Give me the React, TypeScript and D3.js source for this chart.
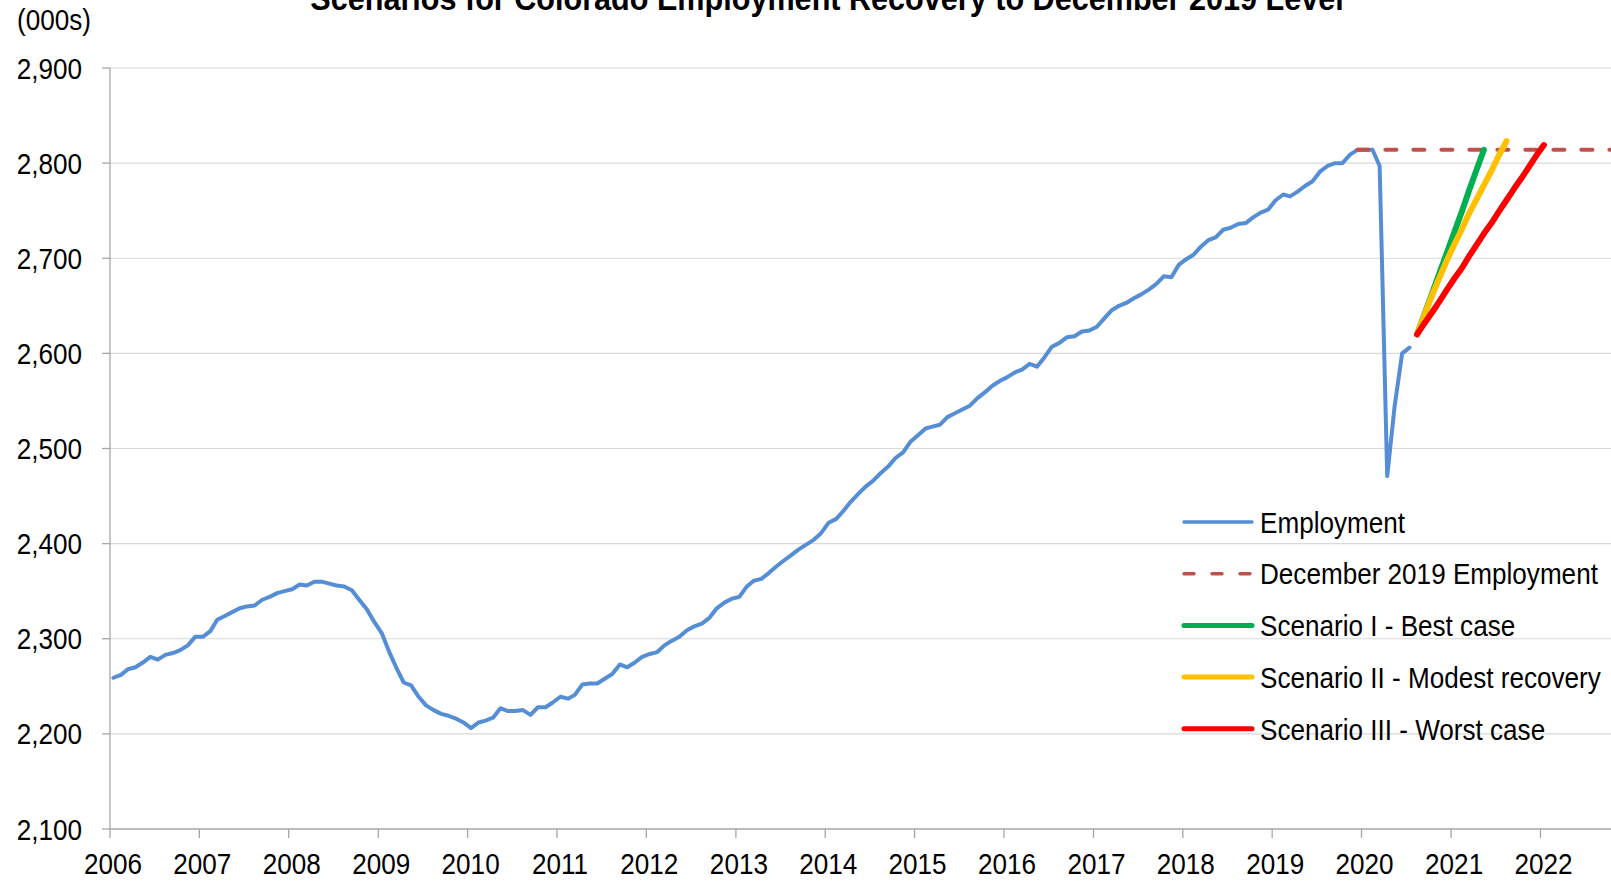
import React from 'react';
import * as d3 from 'd3';

// chart values
const yTicks = [2100, 2200, 2300, 2400, 2500, 2600, 2700, 2800, 2900];
const xYears = d3.range(2006, 2023);

// Colorado employment (000s), monthly from Jan 2006 to Jul 2020
const employment = [
  2259, 2262, 2268, 2270, 2275, 2281, 2278, 2283, 2285, 2288, 2293, 2302,
  2302, 2308, 2320, 2324, 2328, 2332, 2334, 2335, 2341, 2344, 2348, 2350,
  2352, 2357, 2356, 2360, 2360, 2358, 2356, 2355, 2351, 2341, 2331, 2318,
  2306, 2286, 2270, 2254, 2251, 2239, 2230, 2225, 2221, 2219, 2216, 2212,
  2206, 2212, 2214, 2217, 2227, 2224, 2224, 2225, 2220, 2228, 2228, 2233,
  2239, 2237, 2241, 2252, 2253, 2253, 2258, 2263, 2273, 2270, 2275, 2281,
  2284, 2286, 2293, 2298, 2302, 2309, 2313, 2316, 2322, 2332, 2338, 2342,
  2344, 2355, 2361, 2363, 2369, 2376, 2382, 2388, 2394, 2399, 2404, 2411,
  2422, 2426, 2434, 2444, 2452, 2460, 2466, 2474, 2481, 2490, 2496, 2507,
  2514, 2521, 2523, 2525, 2533, 2537, 2541, 2545, 2553, 2559, 2566, 2571,
  2575, 2580, 2583, 2589, 2586, 2596, 2607, 2611, 2617, 2618, 2623, 2624,
  2628, 2637, 2645, 2650, 2653, 2658, 2662, 2667, 2673, 2681, 2680, 2693,
  2699, 2704, 2712, 2719, 2722, 2730, 2732, 2736, 2737, 2743, 2748, 2751,
  2761, 2767, 2765, 2770, 2776, 2781, 2791, 2797, 2800, 2800, 2809, 2814,
  2814, 2814, 2797, 2471, 2544, 2600, 2606,
];

// December 2019 level, drawn from Dec 2019 onward
const dec2019Level = [2814, 2814];
const dec2019Months = ['2019-12', '2022-12'];

// scenarios, monthly from Aug 2020
const bestCase = [2620, 2642, 2663, 2685, 2706, 2728, 2750, 2771, 2793, 2814];
const modestCase = [2620, 2641, 2661, 2680, 2698, 2715, 2731, 2747, 2762, 2777, 2792, 2808, 2823];
const worstCase = [2620, 2632, 2643, 2655, 2667, 2679, 2690, 2702, 2714, 2726, 2737, 2749, 2761, 2773, 2784, 2796, 2808, 2819];

const legendLabels = [
  'Employment',
  'December 2019 Employment',
  'Scenario I - Best case',
  'Scenario II - Modest recovery',
  'Scenario III - Worst case',
];

const W = 1611;
const H = 881;
const FONT = '"Liberation Sans", Arial, sans-serif';

type Pt = { date: Date; value: number };

const monthly = (vals: number[], y0: number, m0: number): Pt[] =>
  vals.map((v, i) => ({ date: new Date(y0, m0 + i, 15), value: v }));

const fromKeys = (keys: string[], vals: number[]): Pt[] =>
  keys.map((k, i) => {
    const [y, m] = k.split('-').map(Number);
    return { date: new Date(y, m - 1, 15), value: vals[i] };
  });

// narrow Arial-like text
function T({ x, y, anchor = 'start', size = 29, weight = 'normal', children }: any) {
  return (
    <text
      transform={`translate(${x},${y}) scale(0.9,1)`}
      textAnchor={anchor}
      fontFamily={FONT}
      fontSize={size}
      fontWeight={weight}
      fill="#000"
    >
      {children}
    </text>
  );
}

export default function App() {
  const x = d3.scaleTime()
    .domain([new Date(2006, 0, 1), new Date(2023, 0, 1)])
    .range([110, 110 + 17 * 89.4]);
  const y = d3.scaleLinear().domain([2100, 2900]).range([829, 68]);

  const line = d3.line<Pt>().x(d => x(d.date)).y(d => y(d.value));

  const series = [
    { label: legendLabels[0], data: monthly(employment, 2006, 0), color: '#558ED5', width: 4, dash: null },
    { label: legendLabels[1], data: fromKeys(dec2019Months, dec2019Level), color: '#C0504D', width: 4, dash: '11,17' },
    { label: legendLabels[2], data: monthly(bestCase, 2020, 7), color: '#00B050', width: 6, dash: null },
    { label: legendLabels[3], data: monthly(modestCase, 2020, 7), color: '#FFC000', width: 6, dash: null },
    { label: legendLabels[4], data: monthly(worstCase, 2020, 7), color: '#FF0000', width: 6, dash: null },
  ];

  const axisColor = '#A6A6A6';
  const gridColor = '#D9D9D9';

  return (
    <svg width={W} height={H} style={{ position: 'absolute', left: 0, top: 0, background: '#fff' }}>
      {/* gridlines */}
      {yTicks.slice(1).map(t => (
        <line key={t} x1={110} x2={W} y1={y(t)} y2={y(t)} stroke={gridColor} strokeWidth={1.2} />
      ))}

      {/* axes */}
      <line x1={110} x2={110} y1={y(2900)} y2={y(2100)} stroke={axisColor} strokeWidth={1.3} />
      <line x1={110} x2={W} y1={y(2100)} y2={y(2100)} stroke={axisColor} strokeWidth={1.3} />
      {yTicks.map(t => (
        <g key={t}>
          <line x1={102} x2={110} y1={y(t)} y2={y(t)} stroke={axisColor} strokeWidth={1.3} />
          <T x={82} y={y(t) + 10.5} anchor="end">{d3.format(',')(t)}</T>
        </g>
      ))}
      {xYears.map(yr => {
        const px = x(new Date(yr, 0, 1));
        return (
          <g key={yr}>
            <line x1={px} x2={px} y1={y(2100)} y2={y(2100) + 9} stroke={axisColor} strokeWidth={1.3} />
            <T x={px + 3} y={874} anchor="middle">{yr}</T>
          </g>
        );
      })}

      {/* series */}
      {series.map(s => (
        <path
          key={s.label}
          d={line(s.data) || ''}
          fill="none"
          stroke={s.color}
          strokeWidth={s.width}
          strokeDasharray={s.dash || undefined}
          strokeLinecap="round"
          strokeLinejoin="round"
        />
      ))}

      {/* legend */}
      {series.map((s, i) => {
        const cy = 522 + i * 51.7;
        return (
          <g key={s.label}>
            <line
              x1={1184} x2={1252} y1={cy} y2={cy}
              stroke={s.color}
              strokeWidth={s.width === 4 ? 3.4 : 5}
              strokeDasharray={s.dash ? '10,18' : undefined}
              strokeLinecap="round"
            />
            <T x={1260} y={cy + 10.7}>{s.label}</T>
          </g>
        );
      })}

      {/* titles */}
      <T x={17} y={30}>(000s)</T>
      <T x={827} y={10} size={34} weight="bold" anchor="middle">Scenarios for Colorado Employment Recovery to December 2019 Level</T>
    </svg>
  );
}
